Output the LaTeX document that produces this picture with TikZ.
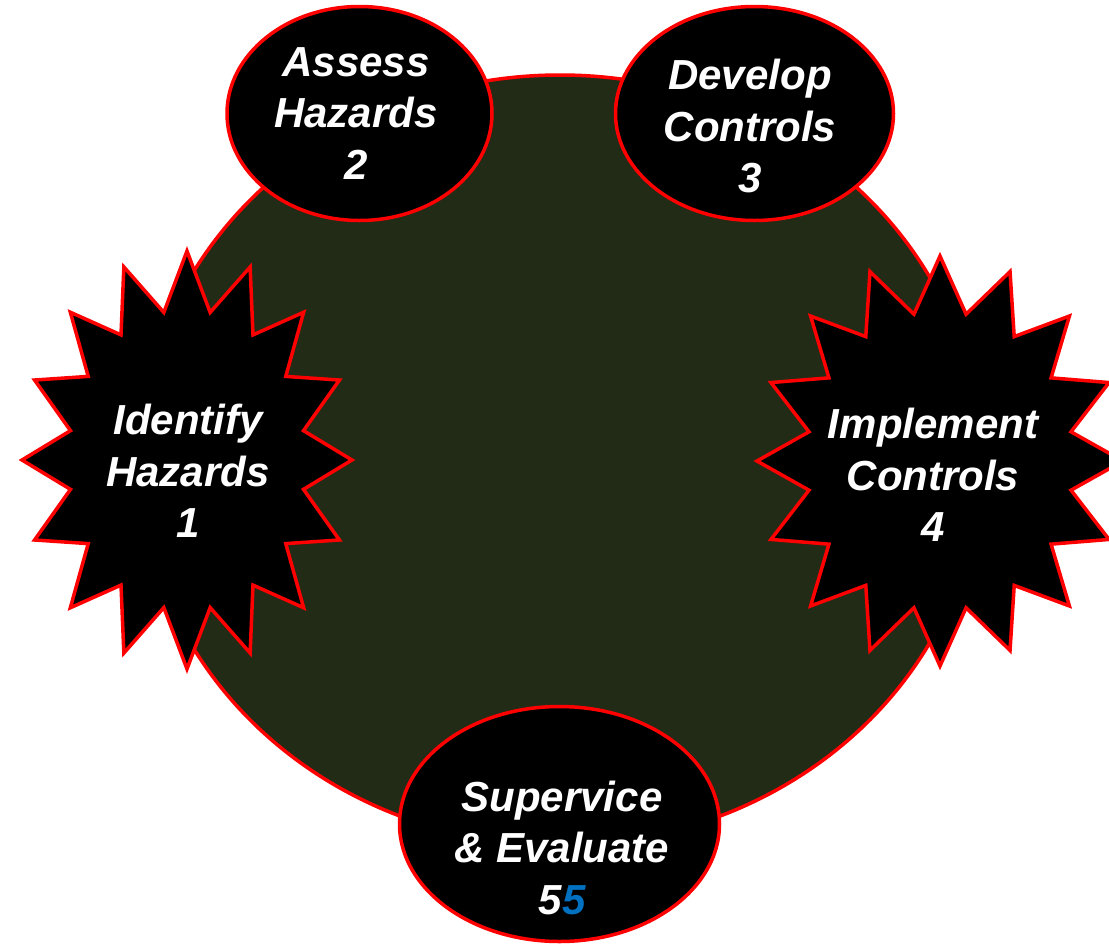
\documentclass[tikz,border=0pt]{standalone}
\usepackage{fontspec}
\setmainfont{Liberation Sans}
\usepackage{xcolor}
\usetikzlibrary{shapes.geometric}

\definecolor{discgreen}{RGB}{33,43,21}
\definecolor{numblue}{RGB}{0,112,192}

\begin{document}
\begin{tikzpicture}[x=1pt, y=-1pt]
    \tikzset{
        disc/.style={draw=red, line width=3.5pt, fill=discgreen},
        phase/.style={ellipse, draw=red, line width=3.5pt, fill=black, inner sep=0pt},
        burst/.style={draw=red, line width=3.5pt, fill=black},
        label/.style={text=white, align=center, font=\fontsize{42}{51.5}\selectfont\bfseries\itshape}
    }
    \useasboundingbox (0,0) rectangle (1109,946);

    \draw[disc] (560,460) ellipse [x radius=420, y radius=385];

    % spiky stars left and right
    \draw[burst, shift={(187,460)}] (0,-209)
        \foreach \i in {1,...,31} {
            -- ({(1-0.28*isodd(\i))*165*cos(90+11.25*\i)}, {-(1-0.28*isodd(\i))*209*sin(90+11.25*\i)})
        } -- cycle;
    \draw[burst, shift={(940,461)}] (0,-205)
        \foreach \i in {1,...,31} {
            -- ({(1-0.27*isodd(\i))*183*cos(90+11.25*\i)}, {-(1-0.27*isodd(\i))*205*sin(90+11.25*\i)})
        } -- cycle;

    \node[phase, minimum width=265pt, minimum height=214pt] (assessring) at (359.5,113.5) {};
    \node[phase, minimum width=278pt, minimum height=214pt] (developring) at (754.5,113.5) {};
    \node[phase, minimum width=320pt, minimum height=235pt] (superring) at (559.5,824) {};

    \node[label] (identify) at (188,471) {Identify\\Hazards\\1};
    \node[label] (assess) at (356,113.5) {Assess\\Hazards\\2};
    \node[label] (develop) at (750,126) {Develop\\Controls\\3};
    \node[label] (implement) at (933,475) {Implement\\Controls\\4};
    \node[label] (supervise) at (562,847.5) {Supervice\\\& Evaluate\\5\textcolor{numblue}{5}};
\end{tikzpicture}
\end{document}
